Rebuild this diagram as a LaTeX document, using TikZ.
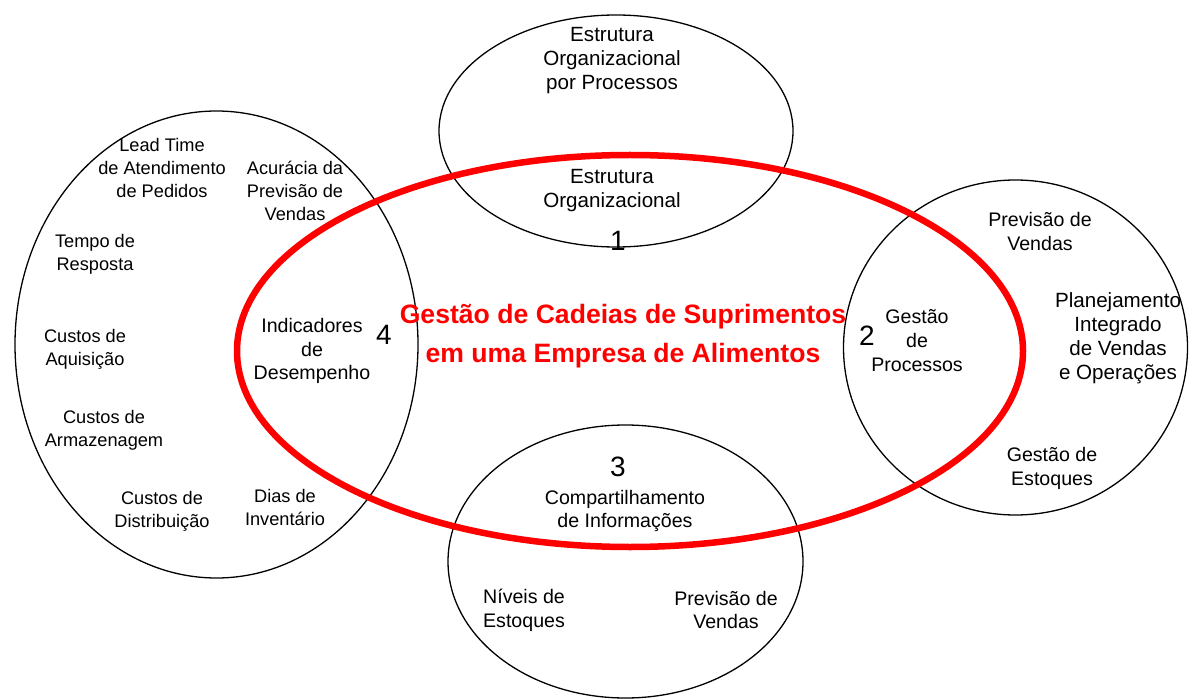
\documentclass[tikz,border=0pt]{standalone}
\usepackage{fontspec}
\setmainfont{Liberation Sans}
\definecolor{tred}{RGB}{255,0,0}
\begin{document}
\begin{tikzpicture}[x=1pt,y=-1pt,
  lbl/.style={align=center,inner sep=0pt,font=\fontsize{19.6}{23.7}\selectfont},
  lbls/.style={align=center,inner sep=0pt,font=\fontsize{18.2}{23}\selectfont},
  lblb/.style={align=center,inner sep=0pt,font=\fontsize{20.6}{24}\selectfont},
  num/.style={inner sep=0pt,font=\fontsize{28}{30}\selectfont},
  ring/.style={draw=black,line width=1.3pt},
  title/.style={align=center,inner sep=0pt,text=tred,font=\bfseries\fontsize{26.6}{39}\selectfont}]
\useasboundingbox (0,0) rectangle (1190,700);
% ellipses
\draw[ring] (616,131) ellipse [x radius=177, y radius=116];
\draw[ring] (216.5,344.5) ellipse [x radius=201.5, y radius=233.5];
\draw[ring] (1015.5,347.5) ellipse [x radius=172, y radius=167.5];
\draw[ring] (625.5,561.5) ellipse [x radius=177.5, y radius=136.5];
\draw[tred,line width=6.5pt] (630,351) ellipse [x radius=393, y radius=196];
% title
\node[title] (t) at (623,336) {Gestão de Cadeias de Suprimentos\\em uma Empresa de Alimentos};
% top
\node[lblb] (a1) at (612,61) {Estrutura\\Organizacional\\por Processos};
\node[lblb] (a2) at (612,190.5) {Estrutura\\Organizacional};
\node[num] (n1) at (618,241) {1};
% left
\node[lbls] (b1) at (162,168) {Lead Time\\de Atendimento\\de Pedidos};
\node[lbls] (b2) at (295,191) {Acurácia da\\Previsão de\\Vendas};
\node[lbls] (b3) at (95,254) {Tempo de\\Resposta};
\node[lbls] (b4) at (85,349) {Custos de\\Aquisição};
\node[lbls] (b5) at (104,430.5) {Custos de\\Armazenagem};
\node[lbls] (b6) at (162,511) {Custos de\\Distribuição};
\node[lbls] (b7) at (285,507) {Dias de\\Inventário};
\node[lbl] (b8) at (312,351) {Indicadores\\de\\Desempenho};
\node[num] (n4) at (384,335) {4};
% right
\node[lbl] (c1) at (1040,231.5) {Previsão de\\Vendas};
\node[lblb] (c2) at (1118,338.5) {Planejamento\\Integrado\\de Vendas\\e Operações};
\node[lbl] (c3) at (1052,468.5) {Gestão de\\Estoques};
\node[lbl] (c4) at (917,340.5) {Gestão\\de\\Processos};
\node[num] (n2) at (867,336) {2};
% bottom
\node[num] (n3) at (618,467) {3};
\node[lbl] (d1) at (625,511) {Compartilhamento\\de Informações};
\node[lbl] (d2) at (524,610) {Níveis de\\Estoques};
\node[lbl] (d3) at (726,610) {Previsão de\\Vendas};
\end{tikzpicture}
\end{document}
